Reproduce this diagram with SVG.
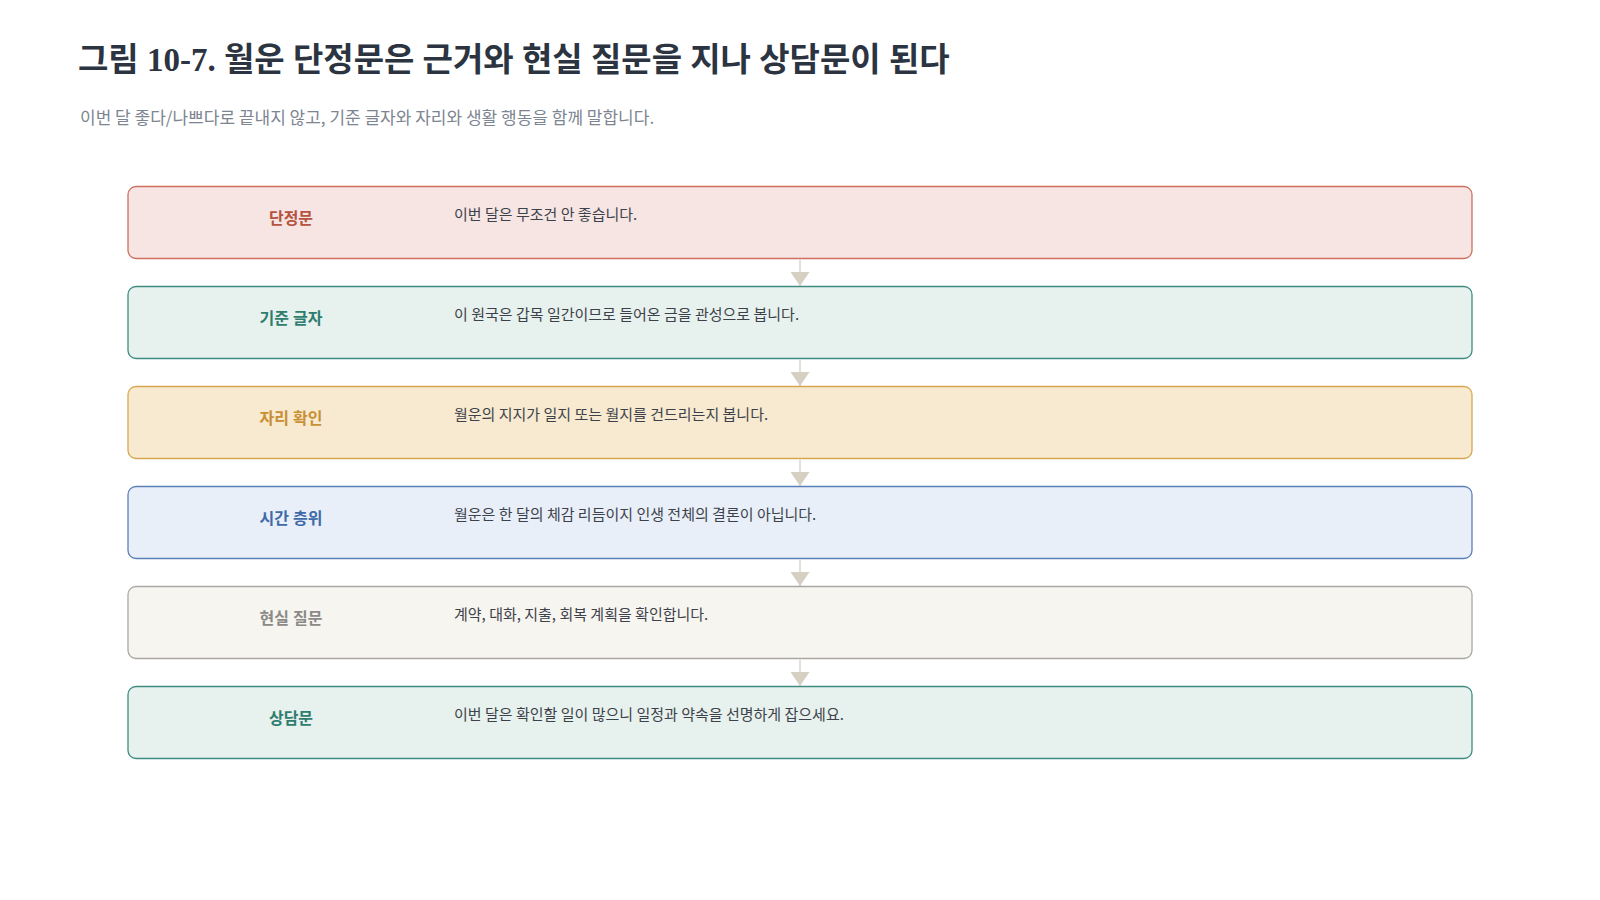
<svg xmlns="http://www.w3.org/2000/svg" width="1600" height="900" viewBox="0 0 1600 900">
<style>
.title{font-family:"Liberation Serif","Noto Sans CJK KR",serif;font-weight:700;font-size:33px;fill:#2b3440}
.sub{font-family:"Noto Sans CJK KR","Noto Sans",sans-serif;font-size:17px;fill:#7d8591}
.label{font-family:"Liberation Serif","Noto Sans CJK KR",serif;font-weight:700;font-size:16px;text-anchor:middle}
.body{font-family:"Noto Sans CJK KR","Noto Sans",sans-serif;font-size:15px;fill:#3d424a}
.box{stroke-width:1.3}
.conn{stroke:#d6d0c3;stroke-width:1.3;fill:none}
</style>
<defs>
<marker id="arr" markerWidth="14" markerHeight="19" refX="14" refY="9.5" orient="auto" markerUnits="userSpaceOnUse">
<path d="M0,0 L14,9.5 L0,19 Z" fill="#d6d0c3"/>
</marker>
</defs>
<rect width="1600" height="900" fill="#ffffff"/>
<text class="title" x="78" y="71">그림 10-7. 월운 단정문은 근거와 현실 질문을 지나 상담문이 된다</text>
<text class="sub" x="80" y="124">이번 달 좋다/나쁘다로 끝내지 않고, 기준 글자와 자리와 생활 행동을 함께 말합니다.</text>

<g id="connectors">
<line class="conn" x1="800" y1="260" x2="800" y2="286" marker-end="url(#arr)"/>
<line class="conn" x1="800" y1="360" x2="800" y2="386" marker-end="url(#arr)"/>
<line class="conn" x1="800" y1="460" x2="800" y2="486" marker-end="url(#arr)"/>
<line class="conn" x1="800" y1="560" x2="800" y2="586" marker-end="url(#arr)"/>
<line class="conn" x1="800" y1="660" x2="800" y2="686" marker-end="url(#arr)"/>
</g>

<g id="node-1">
<rect class="box" x="128" y="186.5" width="1344" height="72" rx="8" fill="#f6e5e3" stroke="#cf6f5f"/>
<text class="label" x="291" y="224" fill="#b5533f">단정문</text>
<text class="body" x="454" y="220">이번 달은 무조건 안 좋습니다.</text>
</g>
<g id="node-2">
<rect class="box" x="128" y="286.5" width="1344" height="72" rx="8" fill="#e7f1ed" stroke="#3d8c7f"/>
<text class="label" x="291" y="324" fill="#2e7d6f">기준 글자</text>
<text class="body" x="454" y="320">이 원국은 갑목 일간이므로 들어온 금을 관성으로 봅니다.</text>
</g>
<g id="node-3">
<rect class="box" x="128" y="386.5" width="1344" height="72" rx="8" fill="#f7ead0" stroke="#d9a650"/>
<text class="label" x="291" y="424" fill="#c98f34">자리 확인</text>
<text class="body" x="454" y="420">월운의 지지가 일지 또는 월지를 건드리는지 봅니다.</text>
</g>
<g id="node-4">
<rect class="box" x="128" y="486.5" width="1344" height="72" rx="8" fill="#e8eff8" stroke="#5a80b8"/>
<text class="label" x="291" y="524" fill="#3f6aa8">시간 층위</text>
<text class="body" x="454" y="520">월운은 한 달의 체감 리듬이지 인생 전체의 결론이 아닙니다.</text>
</g>
<g id="node-5">
<rect class="box" x="128" y="586.5" width="1344" height="72" rx="8" fill="#f7f5f0" stroke="#aaa8a4"/>
<text class="label" x="291" y="624" fill="#8c8a86">현실 질문</text>
<text class="body" x="454" y="620">계약, 대화, 지출, 회복 계획을 확인합니다.</text>
</g>
<g id="node-6">
<rect class="box" x="128" y="686.5" width="1344" height="72" rx="8" fill="#e7f1ed" stroke="#3d8c7f"/>
<text class="label" x="291" y="724" fill="#2e7d6f">상담문</text>
<text class="body" x="454" y="720">이번 달은 확인할 일이 많으니 일정과 약속을 선명하게 잡으세요.</text>
</g>
</svg>
